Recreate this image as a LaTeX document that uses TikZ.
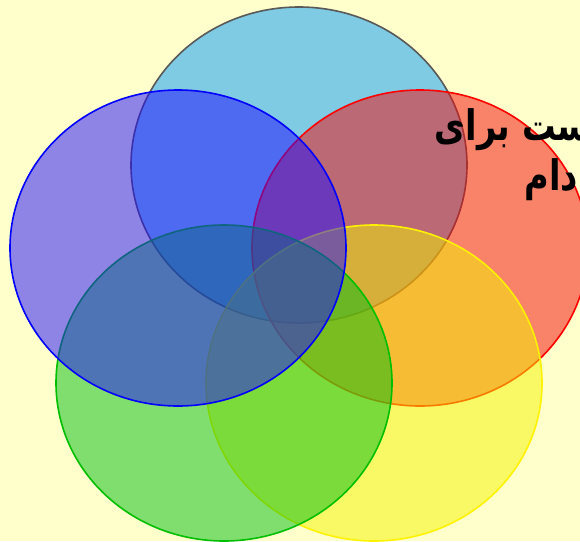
\documentclass[tikz,border=0pt]{standalone}
\usepackage{fontspec}
\newfontfamily\persianfont[Script=Arabic, FakeStretch=0.8]{DejaVu Sans}
\TeXXeTstate=1
\definecolor{bgyellow}{RGB}{255,255,204}
\definecolor{skyfill}{RGB}{0,152,250}
\definecolor{bluefill}{RGB}{31,11,255}
\definecolor{redfill}{RGB}{245,8,8}
\definecolor{greenfill}{RGB}{0,190,16}
\definecolor{yellowfill}{RGB}{242,245,0}
\definecolor{greenline}{RGB}{0,190,0}
\tikzset{
  disc/.style={line width=1.6pt, fill opacity=0.5},
  bigtext/.style={text=black, anchor=base east, inner sep=0pt, font=\persianfont\bfseries\fontsize{42}{48}\selectfont}
}

\begin{document}
\begin{tikzpicture}[x=1pt,y=-1pt]
  \useasboundingbox (0,0) rectangle (580,541);
  \fill[bgyellow] (0,0) rectangle (580,541);
  \clip (0,0) rectangle (580,541);
  % five overlapping discs, bottom to top
  \draw[disc, draw=black!65, fill=skyfill] (299,165) ellipse [x radius=168, y radius=158];
  \draw[disc, draw=red, fill=redfill] (420,248) ellipse [x radius=168, y radius=158];
  \draw[disc, draw=yellow, fill=yellowfill] (374,383) ellipse [x radius=168, y radius=158];
  \draw[disc, draw=greenline, fill=greenfill] (224,383) ellipse [x radius=168, y radius=158];
  \draw[disc, draw=blue, fill=bluefill] (178,248) ellipse [x radius=168, y radius=158];
  % text, cut off at the right edge
  \node[bigtext] (lineone) at (591,140) {\beginR ست برای\endR};
  \node[bigtext] (linetwo) at (578,190) {\beginR دام\endR};
\end{tikzpicture}
\end{document}
